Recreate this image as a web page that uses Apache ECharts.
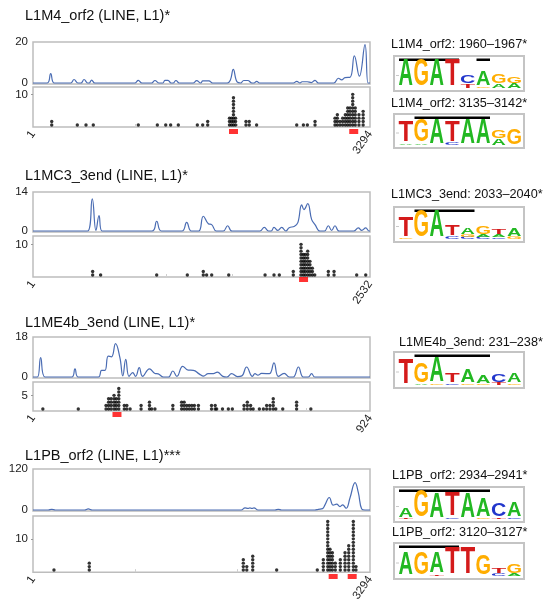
<!DOCTYPE html>
<html>
<head>
<meta charset="utf-8">
<script src="https://cdn.jsdelivr.net/npm/echarts@6/dist/echarts.min.js"></script>
<style>
  html, body { margin: 0; padding: 0; background: #fff; }
  #chart { width: 556px; height: 604px; }
</style>
</head>
<body>
<div id="chart"></div>
<script>
// panels (left side)
const panelNames = ['L1M4_orf2 (LINE, L1)*', 'L1MC3_3end (LINE, L1)*', 'L1ME4b_3end (LINE, L1)*', 'L1PB_orf2 (LINE, L1)***']
const seqLengths = [3294, 2532, 924, 3294]
const densityMax = [20, 14, 18, 120]
const countLabel = [10, 10, 5, 10]
const motifStarts = [[1960, 3135], [2033], [231], [2934, 3120]]
const minorTicks = [[1000, 2000, 3000], [500, 1000, 1500, 2000, 2500], [250, 500, 750], [1000, 2000, 3000]]

// density curves [position, value]
const density1 = [[1,0],[140,0],[174,4.6],[210,0],[370,0],[402,1.7],[440,0],[470,0],[500,1.7],[535,0],[550,0],[574,1.4],[605,0],[995,0],[1030,1.3],[1065,0],[1160,0],[1193,1.2],[1230,0],[1270,0],[1290,1.3],[1320,1.3],[1350,0],[1370,0],[1398,1.2],[1430,0],[1565,0],[1600,1.1],[1640,0],[1660,1.0],[1720,1.0],[1755,0],[1900,0],[1930,1.5],[1958,6.6],[1995,0.5],[2030,0],[2060,1.2],[2100,1.2],[2140,0],[2160,0],[2187,0.8],[2215,0],[2545,0],[2578,0.8],[2610,0],[2630,0.6],[2680,0.6],[2720,0.2],[2757,1.3],[2790,0],[2940,0],[2985,2.3],[3017,1.5],[3050,2.6],[3100,2.8],[3141,13.2],[3190,3.3],[3245,18.7],[3275,0],[3294,0]]
const density2 = [[1,0],[410,0],[446,11.5],[474,0.2],[497,5.5],[520,0],[895,0],[930,3.5],[965,0],[1120,0],[1155,3.1],[1190,0],[1245,0],[1280,5.3],[1318,2.6],[1343,2.3],[1378,0],[1430,0],[1463,1.9],[1495,0],[1705,0],[1738,1.3],[1770,0],[1790,0],[1811,1.3],[1840,0.2],[1869,1.3],[1900,0],[1925,1.2],[1965,1.7],[1990,3],[2019,9.4],[2036,7.7],[2064,9.8],[2094,4.1],[2119,2.3],[2156,0],[2190,0],[2219,1.9],[2244,0.2],[2269,1.9],[2300,0],[2410,0],[2444,1.1],[2470,0.2],[2500,1.1],[2525,0],[2532,0]]
const density3 = [[1,0],[13,0],[22,8.7],[34,0],[107,0],[116,3.7],[125,0],[180,0],[189,3],[198,3],[207,9.4],[216,9.1],[227,15],[239,8.7],[247,0.5],[255,7.9],[264,0.3],[274,2],[282,0.3],[292,4.2],[301,0.3],[320,3.7],[335,1.6],[344,1.4],[358,0],[372,0],[384,2.7],[395,0.3],[411,4.8],[426,3.1],[440,3],[457,1.3],[468,0.4],[481,1.5],[495,1.5],[506,2.2],[521,0.3],[532,0],[545,1.5],[561,0.2],[573,0.5],[586,4.5],[602,0.3],[609,1.5],[617,0.8],[627,1.6],[648,1.5],[661,6.4],[673,0.3],[689,1.6],[703,0],[714,0],[728,4.5],[741,0],[755,0],[764,1.5],[773,0],[924,0]]
const density4 = [[1,0],[150,0],[184,2],[220,0],[505,0],[541,3],[580,0],[2035,0],[2073,6],[2100,4.5],[2121,6],[2140,4.5],[2160,6],[2200,0],[2365,0],[2398,2],[2430,0],[2755,0],[2789,2],[2830,4],[2854,15],[2896,36.5],[2935,14],[2968,17],[3001,10],[3027,15],[3060,5],[3099,36],[3148,80],[3180,51],[3213,3],[3245,0],[3294,0]]

// stacked dots [position, count]
const dots1 = [[184,2],[434,1],[519,1],[590,1],[1030,1],[1216,1],[1298,1],[1346,1],[1421,1],[1607,1],[1659,1],[1708,2],[1921,3],[1941,3],[1960,9],[1980,3],[2082,2],[2114,2],[2186,1],[2578,1],[2643,1],[2682,1],[2757,2],[2952,3],[2975,4],[3001,2],[3027,3],[3053,4],[3076,6],[3099,6],[3125,10],[3150,6],[3186,4],[3227,5]]
const dots2 = [[449,2],[509,1],[930,1],[1160,1],[1280,2],[1305,1],[1343,1],[1471,1],[1744,1],[1811,1],[1851,1],[1956,2],[2014,10],[2031,7],[2046,7],[2064,8],[2081,5],[2099,3],[2117,1],[2219,2],[2262,2],[2432,1],[2500,1]]
const dots3 = [[28,1],[125,1],[201,2],[208,4],[215,4],[223,5],[229,4],[236,7],[251,2],[258,2],[267,1],[297,2],[320,3],[326,1],[335,1],[384,2],[408,3],[415,3],[422,2],[429,2],[436,2],[443,2],[454,2],[490,2],[500,2],[504,1],[520,1],[536,1],[547,1],[579,2],[588,3],[597,2],[604,1],[621,1],[632,1],[641,2],[650,2],[659,4],[666,1],[685,1],[723,3],[762,1]]
const dots4 = [[206,1],[551,3],[2056,4],[2090,2],[2148,5],[2382,1],[2779,1],[2838,4],[2881,15],[2903,7],[2926,6],[2955,3],[3004,4],[3050,6],[3086,8],[3131,15],[3157,2]]

// sequence logos (right side): columns bottom->top as [letter, relative height]
const logoTitles = ['L1M4_orf2: 1960–1967*', 'L1M4_orf2: 3135–3142*', 'L1MC3_3end: 2033–2040*', 'L1ME4b_3end: 231–238*', 'L1PB_orf2: 2934–2941*', 'L1PB_orf2: 3120–3127*']
const logoColumns = [
  [[['A',1.0]], [['G',1.0]], [['A',1.0]], [['T',1.0]], [['T',0.15],['C',0.3]], [['G',0.06],['A',0.55]], [['A',0.15],['G',0.32]], [['A',0.18],['G',0.22]]],
  [[['A',0.05],['T',0.8]], [['A',0.05],['G',0.82]], [['A',0.95]], [['C',0.08],['T',0.8]], [['A',0.95]], [['A',0.95]], [['A',0.25],['G',0.3]], [['G',0.6]]],
  [[['G',0.05],['T',0.72]], [['G',0.98]], [['A',1.0]], [['C',0.1],['T',0.38]], [['C',0.08],['G',0.08],['A',0.22]], [['C',0.08],['A',0.08],['G',0.3]], [['C',0.06],['A',0.1],['T',0.2]], [['G',0.08],['A',0.3]]],
  [[['T',0.95]], [['A',0.05],['G',0.75]], [['G',0.05],['A',0.95]], [['C',0.06],['T',0.36]], [['G',0.06],['A',0.5]], [['G',0.06],['A',0.3]], [['T',0.08],['C',0.28]], [['G',0.06],['A',0.35]]],
  [[['T',0.05],['A',0.35]], [['G',1.0]], [['A',0.92]], [['C',0.05],['T',0.9]], [['A',0.92]], [['G',0.05],['A',0.7]], [['T',0.05],['C',0.5]], [['C',0.06],['A',0.55]]],
  [[['A',0.85]], [['G',0.85]], [['T',0.05],['A',0.8]], [['T',1.0]], [['T',1.0]], [['G',0.72]], [['C',0.1],['T',0.18]], [['A',0.08],['G',0.35]]]
]
const logoBars = [[[1,4],[6,6]], [[2,6]], [[2,5]], [[2,6]], [[1,6]], [[1,4]]]

const densities = [density1, density2, density3, density4]
const dotSets = [dots1, dots2, dots3, dots4]

// layout in px
const layout = [
  { title: 8, line: [42, 42], dot: [87, 40, 3.4], red: 129 },
  { title: 168, line: [192, 40], dot: [236, 41, 3.4], red: 277 },
  { title: 315, line: [337, 41], dot: [382, 29, 3.4], red: 412 },
  { title: 448, line: [469, 42], dot: [516, 57, 3.52], red: 574 }
]
const logoLayout = [
  { tx: 391, ty: 44, top: 56, bottom: 91 },
  { tx: 391, ty: 103, top: 114, bottom: 148 },
  { tx: 391, ty: 194, top: 207, bottom: 242 },
  { tx: 399, ty: 342, top: 352, bottom: 388 },
  { tx: 392, ty: 475, top: 487, bottom: 522 },
  { tx: 392, ty: 532, top: 543, bottom: 579 }
]

const FONT = '"Liberation Sans", Arial, sans-serif'
const lineColor = '#4a6cb3'
const boxColor = '#bdbdbd'

const grids = [], xAxes = [], yAxes = [], series = []
layout.forEach((l, i) => {
  const L = seqLengths[i]
  grids.push({ left: 33, width: 337, top: l.line[0], height: l.line[1], show: true, borderColor: boxColor, borderWidth: 1.5, backgroundColor: '#fff' })
  grids.push({ left: 33, width: 337, top: l.dot[0], height: l.dot[1], show: true, borderColor: boxColor, borderWidth: 1.5, backgroundColor: '#fff' })
  grids.push({ left: 33, width: 337, top: l.red, height: 5, show: false })

  xAxes.push({ type: 'value', gridIndex: 3 * i, min: 1, max: L, show: false })
  xAxes.push({
    type: 'value', gridIndex: 3 * i + 1, min: 1, max: L,
    axisLine: { show: false },
    splitLine: { show: false },
    axisTick: { customValues: minorTicks[i], inside: true, length: 3, lineStyle: { color: '#cfcfcf' } },
    axisLabel: { customValues: [1, L], formatter: v => String(v), rotate: 55, margin: 5, fontSize: 11.5, color: '#222', fontFamily: FONT }
  })
  xAxes.push({ type: 'value', gridIndex: 3 * i + 2, min: 1, max: L, show: false })

  const dmax = densityMax[i]
  yAxes.push({
    type: 'value', gridIndex: 3 * i, min: -dmax * 0.025, max: dmax,
    axisLine: { show: false }, splitLine: { show: false }, axisTick: { show: false },
    axisLabel: { customValues: [0, dmax], margin: 5, fontSize: 11.5, color: '#222', fontFamily: FONT }
  })
  yAxes.push({
    type: 'value', gridIndex: 3 * i + 1, min: 0.4, max: 0.4 + l.dot[1] / l.dot[2],
    axisLine: { show: false }, splitLine: { show: false },
    axisTick: { customValues: [countLabel[i]], length: 2, lineStyle: { color: '#999' } },
    axisLabel: { customValues: [countLabel[i]], margin: 5, fontSize: 11.5, color: '#222', fontFamily: FONT }
  })
  yAxes.push({ type: 'value', gridIndex: 3 * i + 2, min: -1, max: 1, show: false })

  series.push({
    type: 'line', xAxisIndex: 3 * i, yAxisIndex: 3 * i, data: densities[i],
    smooth: 0.45, showSymbol: false, silent: true,
    lineStyle: { color: lineColor, width: 1.2 }
  })
  const pts = []
  dotSets[i].forEach(([pos, n]) => { for (let k = 1; k <= n; k++) pts.push([pos, k]) })
  series.push({
    type: 'scatter', xAxisIndex: 3 * i + 1, yAxisIndex: 3 * i + 1, data: pts,
    symbolSize: 3.4, silent: true, itemStyle: { color: '#000' }
  })
  series.push({
    type: 'scatter', xAxisIndex: 3 * i + 2, yAxisIndex: 3 * i + 2,
    data: motifStarts[i].map(p => [p, 0]),
    symbol: 'rect', symbolSize: [9, 5], silent: true, itemStyle: { color: '#ff0000' }
  })
})

// logo graphics
const letterColor = { A: '#22b822', C: '#2236cc', G: '#ffad00', T: '#d41a1a' }
const inkW = { A: 0.70, C: 0.66, G: 0.70, T: 0.58 }
const colX0 = 398, colW = 15.5, fullH = 27
const graphics = []
logoLayout.forEach((g, j) => {
  graphics.push({
    type: 'text', x: g.tx, y: g.ty, silent: true,
    style: { text: logoTitles[j], fill: '#111', font: '12.7px ' + FONT, textAlign: 'left', textVerticalAlign: 'middle', align: 'left', verticalAlign: 'middle' }
  })
  graphics.push({
    type: 'rect', silent: true, shape: { x: 394, y: g.top, width: 130, height: g.bottom - g.top },
    style: { fill: '#fff', stroke: '#c4c4c4', lineWidth: 2 }
  })
  graphics.push({
    type: 'line', silent: true, shape: { x1: 396, y1: (g.top + g.bottom) / 2 + 2, x2: 399, y2: (g.top + g.bottom) / 2 + 2 },
    style: { stroke: '#c8c8c8', lineWidth: 1 }
  })
  logoBars[j].forEach(([a, b]) => {
    graphics.push({
      type: 'rect', silent: true,
      shape: { x: colX0 + (a - 1) * colW + 1, y: g.top + 2.5, width: (b - a + 1) * colW - 2, height: 2.5 },
      style: { fill: '#000' }
    })
  })
  const base = g.bottom - 2.5
  logoColumns[j].forEach((col, c) => {
    let y = base
    const cx = colX0 + c * colW + colW / 2
    col.forEach(([ch, frac]) => {
      const h = frac * fullH
      if (h >= 0.8) {
        const F = 40
        graphics.push({
          type: 'text', silent: true, x: cx, y: y - h / 2,
          scaleX: 14 / (inkW[ch] * F), scaleY: h / (0.716 * F),
          style: { text: ch, fill: letterColor[ch], font: 'bold 40px ' + FONT, textAlign: 'center', textVerticalAlign: 'middle', align: 'center', verticalAlign: 'middle' }
        })
      }
      y -= h + 0.3
    })
  })
})

const chart = echarts.init(document.getElementById('chart'))
chart.setOption({
  animation: false,
  backgroundColor: '#fff',
  title: panelNames.map((t, i) => ({
    text: t, left: 25, top: layout[i].title, padding: 0,
    textStyle: { fontSize: 14.5, fontWeight: 'normal', color: '#111', fontFamily: FONT }
  })),
  grid: grids,
  xAxis: xAxes,
  yAxis: yAxes,
  series: series,
  graphic: { elements: graphics }
})
</script>
</body>
</html>
